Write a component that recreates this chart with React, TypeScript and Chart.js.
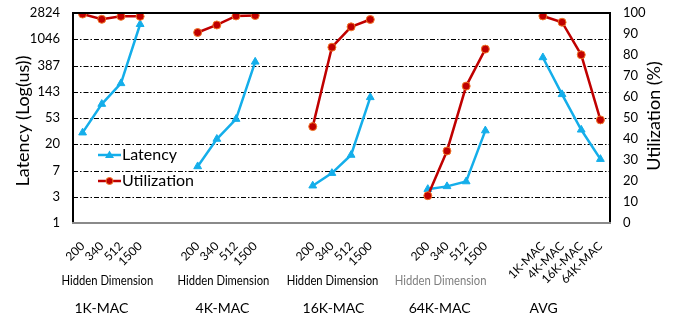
import React, { useEffect, useRef } from "react";
import { Chart, registerables } from "chart.js";

Chart.register(...registerables);

const groupNames = ["1K-MAC", "4K-MAC", "16K-MAC", "64K-MAC", "AVG"];
const hiddenDims = ["200", "340", "512", "1500"];
const avgLabels = ["1K-MAC", "4K-MAC", "16K-MAC", "64K-MAC"];

// Latency (us), log axis
const latency1K = [30.5, 90, 197, 1845];
const latency4K = [8.5, 24, 51, 445];
const latency16K = [4.1, 6.6, 13.1, 116];
const latency64K = [3.6, 4.0, 4.8, 33];
const latencyAvg = [525, 130, 34, 11.2];

// Utilization (%)
const util1K = [99.5, 97.0, 98.4, 98.4];
const util4K = [90.7, 94.3, 98.6, 98.8];
const util16K = [45.9, 83.7, 93.4, 96.9];
const util64K = [13.0, 34.3, 65.2, 82.8];
const utilAvg = [98.6, 95.6, 80.1, 49.1];

const latencyTickValues = [1, 2.7, 7.29, 19.683, 53.1441, 143.489, 387.42, 1046.03, 2824.3];
const latencyTickLabels = ["1", "3", "7", "20", "53", "143", "387", "1046", "2824"];
const utilTickValues = [0, 10, 20, 30, 40, 50, 60, 70, 80, 90, 100];

const FONT = "Lato, 'Noto Sans', sans-serif";
const BLUE = "#14AEEA";
const RED = "#C00000";
const ORANGE = "#F07828";

function joinGroups<T>(groups: T[][], gapLabel: T): T[] {
  const out: T[] = [];
  groups.forEach((g, i) => {
    if (i > 0) out.push(gapLabel, gapLabel);
    out.push(...g);
  });
  return out;
}

const labels = joinGroups<string>(
  [hiddenDims, hiddenDims, hiddenDims, hiddenDims, avgLabels],
  ""
);
const latencyData = joinGroups<number | null>(
  [latency1K, latency4K, latency16K, latency64K, latencyAvg],
  null
);
const utilData = joinGroups<number | null>(
  [util1K, util4K, util16K, util64K, utilAvg],
  null
);

// caption offsets (px) relative to group centre
const hdOffsets = [-4, -3, -9, -16];
const groupOffsets = [-10, -4, -8, -17, -28];

const decorPlugin = {
  id: "decor",
  beforeDatasetsDraw(chart: any) {
    const { ctx, chartArea } = chart;
    const y = chart.scales.y;
    ctx.save();
    ctx.strokeStyle = "#000";
    ctx.lineWidth = 1;
    ctx.setLineDash([5, 2, 1.5, 2]);
    latencyTickValues.slice(1, -1).forEach((v) => {
      const py = Math.round(y.getPixelForValue(v)) + 0.5;
      ctx.beginPath();
      ctx.moveTo(chartArea.left, py);
      ctx.lineTo(chartArea.right, py);
      ctx.stroke();
    });
    ctx.restore();
  },
  afterDraw(chart: any) {
    const { ctx, chartArea } = chart;
    const x = chart.scales.x;
    ctx.save();
    // border
    ctx.setLineDash([]);
    ctx.lineWidth = 2;
    ctx.strokeStyle = "#000";
    ctx.beginPath();
    ctx.moveTo(chartArea.left, chartArea.bottom);
    ctx.lineTo(chartArea.left, chartArea.top);
    ctx.lineTo(chartArea.right, chartArea.top);
    ctx.lineTo(chartArea.right, chartArea.bottom);
    ctx.stroke();
    ctx.strokeStyle = "#8a8a8a";
    ctx.beginPath();
    ctx.moveTo(chartArea.left - 1, chartArea.bottom);
    ctx.lineTo(chartArea.right + 1, chartArea.bottom);
    ctx.stroke();

    // axis titles
    ctx.fillStyle = "#000";
    ctx.textAlign = "center";
    ctx.textBaseline = "middle";
    ctx.font = `18px ${FONT}`;
    ctx.save();
    ctx.translate(23, 121);
    ctx.rotate(-Math.PI / 2);
    ctx.fillText("Latency (Log(us))", 0, 0);
    ctx.restore();
    ctx.save();
    ctx.translate(654, 116);
    ctx.rotate(-Math.PI / 2);
    ctx.fillText("Utilization (%)", 0, 0);
    ctx.restore();

    // group captions
    groupNames.forEach((name, gi) => {
      const first = gi * 6;
      const last = first + 3;
      const cx = (x.getPixelForValue(first) + x.getPixelForValue(last)) / 2;
      if (gi < 4) {
        ctx.font = `12.5px ${FONT}`;
        ctx.fillStyle = gi === 3 ? "#7f7f7f" : "#000";
        ctx.save();
        ctx.translate(cx + hdOffsets[gi], 281);
        ctx.scale(0.9, 1);
        ctx.fillText("Hidden Dimension", 0, 0);
        ctx.restore();
      }
      ctx.font = `14px ${FONT}`;
      ctx.fillStyle = "#000";
      ctx.fillText(name, cx + groupOffsets[gi], 308);
    });

    // legend
    const items = [
      { text: "Latency", color: BLUE, style: "triangle", y: chartArea.top + 142 },
      { text: "Utilization", color: RED, style: "circle", y: chartArea.top + 168 },
    ];
    const lx0 = chartArea.left + 25;
    const lx1 = chartArea.left + 48;
    items.forEach((it) => {
      ctx.strokeStyle = it.color;
      ctx.lineWidth = 2.5;
      ctx.beginPath();
      ctx.moveTo(lx0, it.y);
      ctx.lineTo(lx1, it.y);
      ctx.stroke();
      const mx = (lx0 + lx1) / 2;
      if (it.style === "triangle") {
        ctx.fillStyle = BLUE;
        ctx.beginPath();
        ctx.moveTo(mx, it.y - 4.5);
        ctx.lineTo(mx + 4.5, it.y + 3);
        ctx.lineTo(mx - 4.5, it.y + 3);
        ctx.closePath();
        ctx.fill();
      } else {
        ctx.fillStyle = RED;
        ctx.strokeStyle = ORANGE;
        ctx.lineWidth = 1;
        ctx.beginPath();
        ctx.arc(mx, it.y, 3.5, 0, Math.PI * 2);
        ctx.fill();
        ctx.stroke();
      }
      ctx.fillStyle = "#000";
      ctx.font = `16px ${FONT}`;
      ctx.textAlign = "left";
      ctx.fillText(it.text, lx1 + 1, it.y);
      ctx.textAlign = "center";
    });
    ctx.restore();
  },
};

export default function App() {
  const canvasRef = useRef<HTMLCanvasElement | null>(null);

  useEffect(() => {
    document.body.style.margin = "0";
    const canvas = canvasRef.current;
    if (!canvas) return;
    const chart = new Chart(canvas, {
      type: "line",
      data: {
        labels,
        datasets: [
          {
            label: "Utilization",
            data: utilData,
            yAxisID: "y1",
            borderColor: RED,
            backgroundColor: RED,
            borderWidth: 2.5,
            pointStyle: "circle",
            pointRadius: 4,
            pointBackgroundColor: RED,
            pointBorderColor: ORANGE,
            pointBorderWidth: 1,
            spanGaps: false,
            tension: 0,
          },
          {
            label: "Latency",
            data: latencyData,
            yAxisID: "y",
            borderColor: BLUE,
            backgroundColor: BLUE,
            borderWidth: 2.5,
            pointStyle: "triangle",
            pointRadius: 4.5,
            pointBackgroundColor: BLUE,
            pointBorderColor: BLUE,
            pointBorderWidth: 1,
            spanGaps: false,
            tension: 0,
          },
        ],
      },
      options: {
        animation: false,
        responsive: true,
        maintainAspectRatio: false,
        layout: { padding: { top: 13, left: 0, right: 0, bottom: 0 } },
        plugins: {
          legend: { display: false },
          tooltip: { enabled: false },
        },
        scales: {
          x: {
            type: "category",
            offset: true,
            grid: { display: false, drawTicks: false },
            border: { display: false },
            ticks: {
              autoSkip: false,
              maxRotation: 45,
              minRotation: 45,
              padding: 16,
              color: "#000",
              font: { family: FONT, size: 12 },
            },
            afterFit(scale: any) {
              scale.height = 97;
              scale.paddingLeft = 0;
              scale.paddingRight = 0;
            },
          },
          y: {
            type: "logarithmic",
            position: "left",
            min: 1,
            max: 2824.3,
            grid: { display: false, drawTicks: false },
            border: { display: false },
            afterBuildTicks(scale: any) {
              scale.ticks = latencyTickValues.map((v) => ({ value: v }));
            },
            ticks: {
              padding: 13,
              color: "#000",
              font: { family: FONT, size: 13 },
              callback: (_v: any, i: number) => latencyTickLabels[i],
            },
            afterFit(scale: any) {
              scale.width = 73;
              scale.paddingTop = 0;
              scale.paddingBottom = 0;
            },
          },
          y1: {
            type: "linear",
            position: "right",
            min: 0,
            max: 100,
            grid: { display: false, drawTicks: false },
            border: { display: false },
            afterBuildTicks(scale: any) {
              scale.ticks = utilTickValues.map((v) => ({ value: v }));
            },
            ticks: {
              padding: 13,
              color: "#000",
              font: { family: FONT, size: 13 },
              callback: (v: any) => String(v),
            },
            afterFit(scale: any) {
              scale.width = 63;
              scale.paddingTop = 0;
              scale.paddingBottom = 0;
            },
          },
        },
      },
      plugins: [decorPlugin],
    });
    return () => chart.destroy();
  }, []);

  return (
    <div style={{ width: 673, height: 320, position: "relative", background: "#fff" }}>
      <canvas ref={canvasRef} />
    </div>
  );
}
